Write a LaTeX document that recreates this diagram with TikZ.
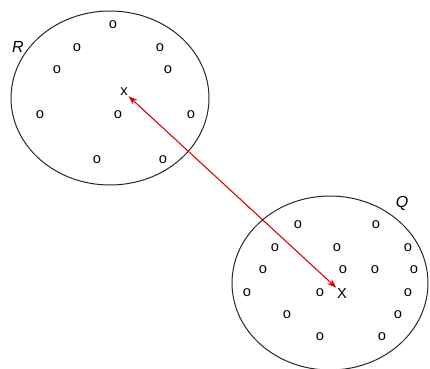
\documentclass[tikz,border=0pt]{standalone}
\usepackage{fontspec}
\setmainfont{Liberation Sans}
\usetikzlibrary{shapes.geometric,arrows.meta}
\begin{document}
\begin{tikzpicture}[
  x=0.75pt, y=-0.75pt,
  cluster/.style={draw=black!85, ellipse, line width=0.75pt, inner sep=0pt, minimum width=148.5pt, minimum height=130.5pt},
  pt/.style={font=\fontsize{11}{13}\selectfont, inner sep=0.5pt},
  tag/.style={font=\fontsize{12}{14}\selectfont\itshape, inner sep=0pt},
  link/.style={{Stealth[length=7pt,width=5pt]}-{Stealth[length=7pt,width=5pt]}, red!85!black, line width=0.8pt}
]
\useasboundingbox (0,0) rectangle (430,369);
\node[cluster] (R) at (110,98) {};
\node[cluster, minimum width=147pt] (Q) at (330,283) {};
\node[tag] (lr) at (18,47) {R};
\node[tag] (lq) at (402,203) {Q};

\foreach \px/\py [count=\i] in {113/25, 77/48, 160/48, 57/70, 168/70, 40/115, 118/115, 191/115, 97/160, 163/160}
  \node[pt] (r\i) at (\px,\py) {o};
\foreach \px/\py [count=\i] in {298/225, 376/225, 275/248, 337/248, 408/248, 263/270, 343/270, 375/270, 414/270,
    247/293, 320/293, 408/293, 287/315, 398/315, 320/337, 382/337}
  \node[pt] (q\i) at (\px,\py) {o};

\node[pt] (xr) at (124,92) {x};
\node[pt] (xq) at (342,293) {X};

\draw[link] (xq) -- (xr);
\end{tikzpicture}
\end{document}
